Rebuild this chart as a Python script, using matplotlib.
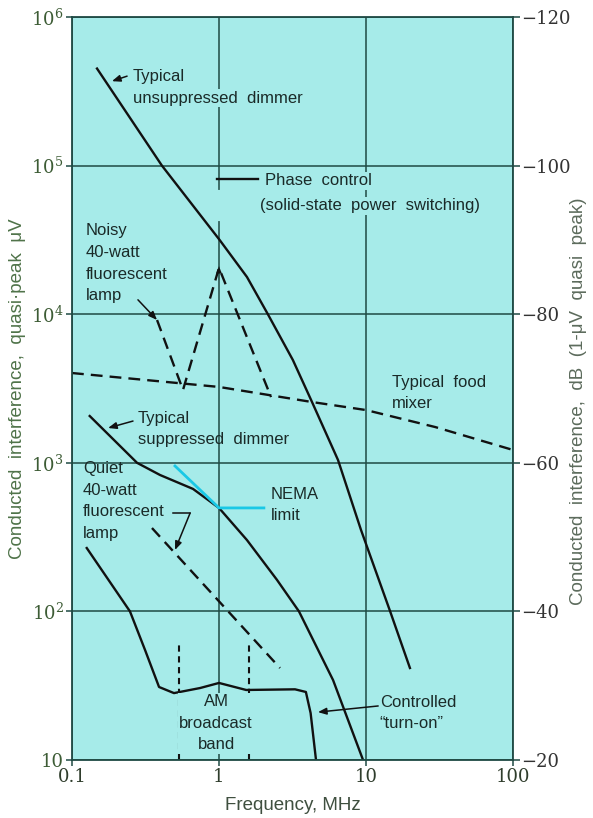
import matplotlib.pyplot as plt
import matplotlib.ticker as mticker

# values: frequency in MHz, level in microvolts
unsup_f = [0.148, 0.409, 1.01, 1.55, 2.15, 3.18, 4.29, 6.45, 9.25, 14.6, 19.9]
unsup_v = [4.5e5, 1.0e5, 3.16e4, 1.78e4, 1.0e4, 4920, 2570, 1045, 353, 100, 41.6]

sup_f = [0.132, 0.277, 0.397, 0.666, 1.0, 1.55, 2.48, 3.50, 5.97, 9.55]
sup_v = [2065, 1000, 828, 667, 497, 302, 163, 100, 34.5, 10]

noisy_f = [0.379, 0.569, 1.0, 2.26]
noisy_v = [9140, 3090, 2.05e4, 2770]

quiet_f = [0.350, 2.60]
quiet_v = [364, 41.6]

mixer_f = [0.1, 1.0, 4.29, 10, 29.6, 100]
mixer_v = [4020, 3240, 2565, 2265, 1740, 1220]

turnon_f = [0.126, 0.248, 0.314, 0.391, 0.494, 0.743, 1.0, 1.53, 3.29, 3.9, 4.2, 4.57]
turnon_v = [267, 100, 55, 31, 28.2, 30.5, 33, 29.6, 29.9, 28.7, 20.7, 10]

nema_f = [0.502, 1.0, 2.02]
nema_v = [952, 497, 497]

am_band = [0.535, 1.605]
am_top = 62

x_ticks = [0.1, 1, 10, 100]
x_labels = ['0.1', '1', '10', '100']
y_ticks = [10, 1e2, 1e3, 1e4, 1e5, 1e6]
y_labels = ['10', '$10^2$', '$10^3$', '$10^4$', '$10^5$', '$10^6$']
db_labels = ['\u221220', '\u221240', '\u221260', '\u221280', '\u2212100', '\u2212120']

BG = '#a6ebe9'
GRID = '#1f4a44'
INK = '#111111'

plt.rcParams['font.family'] = ['Liberation Sans', 'DejaVu Sans']
plt.rcParams['mathtext.fontset'] = 'dejavuserif'

fig = plt.figure(figsize=(5.93, 8.18), dpi=100)
ax = fig.add_axes([0.1214, 0.0709, 0.7437, 0.9083])
ax.set_facecolor(BG)
ax.set_xscale('log')
ax.set_yscale('log')
ax.set_xlim(0.1, 100)
ax.set_ylim(10, 1e6)

for s in ax.spines.values():
    s.set_color(GRID)
    s.set_linewidth(1.3)

ax.grid(True, which='major', color=GRID, lw=1.1)
ax.set_axisbelow(True)
ax.minorticks_off()

tickfont = dict(family='DejaVu Serif', size=13)
ax.set_xticks(x_ticks)
ax.set_xticklabels(x_labels, fontdict=tickfont, color='#2f3d2c')
ax.set_yticks(y_ticks)
ax.set_yticklabels(y_labels, fontdict=tickfont, color='#3d5c35')
ax.tick_params(length=4, color=GRID, width=1.1, pad=2)

ax2 = ax.twinx()
ax2.set_yscale('log')
ax2.set_ylim(10, 1e6)
ax2.minorticks_off()
ax2.set_yticks(y_ticks)
ax2.set_yticklabels(db_labels, fontdict=tickfont, color='#333333')
ax2.tick_params(length=5, color=GRID, width=1.1, pad=1)
ax2.yaxis.set_minor_locator(mticker.NullLocator())
for s in ax2.spines.values():
    s.set_visible(False)

lw = 1.7
dash = (0, (5, 3))
# small gap in the 1 MHz grid line under the phase-control key
ax.plot([1, 1], [6.6e4, 4.4e4], color=BG, lw=3, zorder=1.5)

ax.plot(unsup_f, unsup_v, color=INK, lw=lw)
ax.plot(sup_f, sup_v, color=INK, lw=lw)
ax.plot(turnon_f, turnon_v, color=INK, lw=lw)
ax.plot(noisy_f, noisy_v, color=INK, lw=lw, ls=dash)
ax.plot(quiet_f, quiet_v, color=INK, lw=lw, ls=dash)
ax.plot(mixer_f, mixer_v, color=INK, lw=lw, ls=dash)
ax.plot(nema_f, nema_v, color='#19c8e6', lw=2.0)
for f in am_band:
    ax.plot([f, f], [10, am_top], color=INK, lw=1.5, ls=(0, (3, 2.2)))

txt = dict(fontsize=12, color='#1a2a28', linespacing=1.55, va='center', ha='left')
box = dict(facecolor=BG, edgecolor='none', pad=1)
arrow = dict(arrowstyle='-|>,head_length=0.5,head_width=0.2', color=INK, lw=1.1,
             shrinkA=0, shrinkB=0)

ax.text(0.26, 3.95e5, 'Typical', **txt)
ax.text(0.26, 2.85e5, 'unsuppressed  dimmer', bbox=box, **txt)
ax.annotate('', xy=(0.187, 3.7e5), xytext=(0.237, 4.0e5), arrowprops=arrow)

ax.plot([0.97, 1.84], [8.1e4, 8.1e4], color=INK, lw=lw)
ax.text(2.06, 7.9e4, 'Phase  control', bbox=box, **txt)
ax.text(1.9, 5.35e4, '(solid-state  power  switching)', bbox=box, **txt)

ax.text(0.124, 2.2e4, 'Noisy\n40-watt\nfluorescent\nlamp', **txt)
ax.annotate('', xy=(0.379, 9140), xytext=(0.281, 1.25e4), arrowprops=arrow)
ax.annotate('', xy=(1.0, 2.1e4), xytext=(1.0, 1.7e4),
            arrowprops=dict(arrowstyle='-|>,head_length=0.5,head_width=0.2',
                            color=INK, lw=0.1, shrinkA=0, shrinkB=0))

ax.text(15.0, 2950, 'Typical  food\nmixer', **txt)

ax.text(0.281, 1690, 'Typical\nsuppressed  dimmer', **txt)
ax.annotate('', xy=(0.176, 1715), xytext=(0.26, 1910), arrowprops=arrow)

ax.text(0.119, 553, 'Quiet\n40-watt\nfluorescent\nlamp', **txt)
ax.plot([0.487, 0.636], [459, 459], color=INK, lw=1.1)
ax.annotate('', xy=(0.502, 259), xytext=(0.636, 459), arrowprops=arrow)

ax.text(2.26, 520, 'NEMA\nlimit', **txt)

ax.text(0.955, 17.7, 'AM\nbroadcast\nband', bbox=box, **dict(txt, ha='center'))

ax.text(12.4, 20.7, 'Controlled\n\u201cturn-on\u201d', **txt)
ax.annotate('', xy=(4.71, 21.0), xytext=(12.1, 23.1), arrowprops=arrow)

ax.set_xlabel('Frequency, MHz', fontsize=13.5, color='#3f4f3f', labelpad=8)
ax.set_ylabel('Conducted  interference,  quasi\u00b7peak  \u03bcV', fontsize=13.5,
              color='#4f7349', labelpad=4)
fig.text(0.976, 0.51, 'Conducted  interference,  dB  (1-\u03bcV  quasi  peak)',
         fontsize=13.5, color='#5c6b5c', rotation=90, ha='center', va='center')

fig.savefig('out.png', dpi=100)
